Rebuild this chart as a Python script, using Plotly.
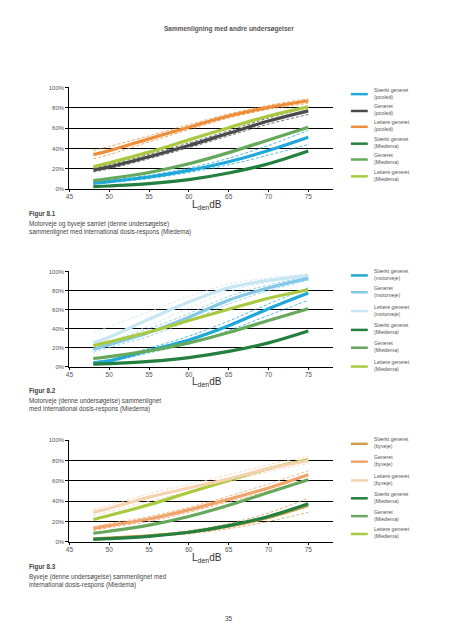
import plotly.graph_objects as go

W, H = 453, 640

# ---------------- data ----------------
x_db = [48, 50, 55, 60, 65, 70, 75]
x_ticks = [45, 50, 55, 60, 65, 70, 75]
y_ticks = [0, 0.2, 0.4, 0.6, 0.8, 1.0]

# Miedema (international dose-response), percent
miedema_strong = [2.5, 3.2, 5.5, 9.5, 16, 25, 37.5]
miedema_gen = [8.5, 10.5, 16.5, 25, 36, 48.5, 61]
miedema_light = [22, 26, 36.5, 48.5, 60.5, 72, 81]

# Figure 8.1 pooled
pooled_strong = [6, 7.5, 12, 18.5, 27, 38, 51]
pooled_strong_hi = [7, 8.7, 13.8, 20.8, 30.5, 43, 58]
pooled_strong_lo = [5, 6.4, 10.5, 16.4, 24, 33.5, 44]
pooled_gen = [19, 22, 32, 43, 55, 67, 77]
pooled_gen_hi = [21, 24, 34.3, 45.5, 57.5, 70, 80.5]
pooled_gen_lo = [17, 20, 30, 40.8, 52.5, 64, 73.5]
pooled_light = [34, 38, 49.5, 61, 72, 80.5, 87]
pooled_light_hi = [38, 42, 52.5, 63.5, 74, 82.5, 89]
pooled_light_lo = [30, 34, 46.5, 58.5, 70, 78.5, 84.5]

# Figure 8.2 motorveje
motor_strong = [4, 6, 17, 28, 43, 61, 77.5]
motor_strong_hi = [5, 7.5, 19.5, 32, 48, 66, 83]
motor_strong_lo = [3, 5, 14.5, 24, 38, 54, 70]
motor_gen = [18, 23, 36, 52, 70, 83, 93]
motor_gen_hi = [21, 26, 40, 56, 74, 86, 95]
motor_gen_lo = [15, 20, 32, 48, 66, 80, 91]
motor_light = [25, 31, 50, 68, 83, 91, 96]
motor_light_hi = [36, 42, 58, 74, 87, 93.5, 97.5]
motor_light_lo = [20, 26, 43, 62, 79, 89, 94.5]

# Figure 8.3 byveje
by_strong = [3, 3.8, 6, 9.5, 15.5, 24, 36]
by_strong_hi = [3.5, 4.5, 7, 11, 18, 28.5, 43]
by_strong_lo = [2.5, 3, 5, 8, 13, 20, 29]
by_gen = [13, 16, 22.5, 31.5, 42, 53, 66]
by_gen_hi = [15, 18, 25, 34, 45, 57, 70]
by_gen_lo = [11, 14, 20, 29, 39.5, 50, 62]
by_light = [29, 33, 44, 53, 62, 72, 80]
by_light_hi = [32, 36, 47.5, 56.5, 66, 76, 84]
by_light_lo = [26, 29.5, 40, 49.5, 59, 69, 77]

# legend texts
leg1 = ["Stærkt generet<br>(pooled)", "Generet<br>(pooled)", "Lettere generet<br>(pooled)",
        "Stærkt generet<br>(Miedema)", "Generet<br>(Miedema)", "Lettere generet<br>(Miedema)"]
leg2 = ["Stærkt generet<br>(motorveje)", "Generet<br>(motorveje)", "Lettere generet<br>(motorveje)",
        "Stærkt generet<br>(Miedema)", "Generet<br>(Miedema)", "Lettere generet<br>(Miedema)"]
leg3 = ["Stærkt generet<br>(byveje)", "Generet<br>(byveje)", "Lettere generet<br>(byveje)",
        "Stærkt generet<br>(Miedema)", "Generet<br>(Miedema)", "Lettere generet<br>(Miedema)"]

captions = [
    ("Figur 8.1", "Motorveje og byveje samlet (denne undersøgelse)<br>sammenlignet med international dosis-respons (Miedema)"),
    ("Figur 8.2", "Motorveje (denne undersøgelse) sammenlignet<br>med international dosis-respons (Miedema)"),
    ("Figur 8.3", "Byveje (denne undersøgelse) sammenlignet med<br>international dosis-respons (Miedema)"),
]

# ---------------- style ----------------
C_M_STRONG = "#23803f"
C_M_GEN = "#66a85c"
C_M_LIGHT = "#a9c940"
C_P_STRONG = "#1fa8d9"
C_P_GEN = "#4a4a4c"
C_P_LIGHT = "#ee8e3a"
C_MV_STRONG = "#1fa8d9"
C_MV_GEN = "#84c8e8"
C_MV_LIGHT = "#c6e6f3"
C_BV_STRONG = "#d39a4a"
C_BV_GEN = "#f0a46c"
C_BV_LIGHT = "#f6d2b0"

FONT = "Liberation Sans, Arial, sans-serif"

def px(x):
    return x / W

def py(y):
    return 1 - y / H

# chart pixel geometry: (y of 100%, y of 0%)
charts = [(85, 188), (271, 367), (441, 544)]
X_LEFT, X_RIGHT = 66, 332
x_max = 45 + (X_RIGHT - X_LEFT) / (241 / 30)

fig = go.Figure()

def pct(v):
    return [a / 100 for a in v]

def add_ci(i, lo, hi, color):
    for arr in (lo, hi):
        fig.add_trace(go.Scatter(x=x_db, y=pct(arr), mode="lines", line=dict(color=color, width=0.8, dash="3px,2px", shape="spline"),
                                 xaxis=f"x{i}" if i > 1 else "x", yaxis=f"y{i}" if i > 1 else "y", showlegend=False, hoverinfo="skip"))

def add_main(i, vals, color, width=3.2):
    fig.add_trace(go.Scatter(x=x_db, y=pct(vals), mode="lines", line=dict(color=color, width=width, shape="spline"),
                             xaxis=f"x{i}" if i > 1 else "x", yaxis=f"y{i}" if i > 1 else "y", showlegend=False))

sets = [
    (1, [(pooled_strong, pooled_strong_lo, pooled_strong_hi, C_P_STRONG),
         (pooled_gen, pooled_gen_lo, pooled_gen_hi, C_P_GEN),
         (pooled_light, pooled_light_lo, pooled_light_hi, C_P_LIGHT)]),
    (2, [(motor_strong, motor_strong_lo, motor_strong_hi, C_MV_STRONG),
         (motor_gen, motor_gen_lo, motor_gen_hi, C_MV_GEN),
         (motor_light, motor_light_lo, motor_light_hi, C_MV_LIGHT)]),
    (3, [(by_strong, by_strong_lo, by_strong_hi, C_BV_STRONG),
         (by_gen, by_gen_lo, by_gen_hi, C_BV_GEN),
         (by_light, by_light_lo, by_light_hi, C_BV_LIGHT)]),
]

legend_colors = {
    1: [C_P_STRONG, C_P_GEN, C_P_LIGHT, C_M_STRONG, C_M_GEN, C_M_LIGHT],
    2: [C_MV_STRONG, C_MV_GEN, C_MV_LIGHT, C_M_STRONG, C_M_GEN, C_M_LIGHT],
    3: [C_BV_STRONG, C_BV_GEN, C_BV_LIGHT, C_M_STRONG, C_M_GEN, C_M_LIGHT],
}
legend_texts = {1: leg1, 2: leg2, 3: leg3}
legend_y = {1: [92, 109, 125, 142, 158, 175],
            2: [275, 292, 311, 330, 348, 367],
            3: [445, 463, 482, 500, 518, 536]}

for i, series in sets:
    for main, lo, hi, col in series:
        add_ci(i, lo, hi, col)
    if i == 3:
        add_main(i, miedema_light, C_M_LIGHT)
        add_main(i, miedema_gen, C_M_GEN)
        for main, lo, hi, col in series[::-1]:
            add_main(i, main, col)
        add_main(i, miedema_strong, C_M_STRONG)
    else:
        for main, lo, hi, col in series[::-1]:
            add_main(i, main, col)
        add_main(i, miedema_light, C_M_LIGHT)
        add_main(i, miedema_gen, C_M_GEN)
        add_main(i, miedema_strong, C_M_STRONG)

layout = dict(
    width=W, height=H, margin=dict(l=0, r=0, t=0, b=0),
    paper_bgcolor="white", plot_bgcolor="white", showlegend=False,
    font=dict(family=FONT, color="#555"),
)

annotations = []
shapes = []

for i, (ytop, ybot) in enumerate(charts, start=1):
    xa = "xaxis" if i == 1 else f"xaxis{i}"
    ya = "yaxis" if i == 1 else f"yaxis{i}"
    layout[xa] = dict(domain=[px(X_LEFT), px(X_RIGHT)], range=[45, x_max], tickvals=x_ticks,
                      ticks="outside", ticklen=2, tickwidth=1, tickcolor="black", ticklabelstandoff=-1,
                      showline=True, linecolor="black", linewidth=1.3, showgrid=False, zeroline=False,
                      tickfont=dict(size=6.5, color="#555"), anchor="y" if i == 1 else f"y{i}", fixedrange=True)
    layout[ya] = dict(domain=[py(ybot), py(ytop)], range=[0, 1.003], tickvals=y_ticks, tickformat=".0%",
                      ticks="outside", ticklen=3, tickwidth=1, tickcolor="black",
                      showline=True, linecolor="black", linewidth=1.3, showgrid=True, gridcolor="black", gridwidth=1.3,
                      zeroline=False, tickfont=dict(size=6, color="#555"),
                      anchor="x" if i == 1 else f"x{i}", fixedrange=True)
    # axis title
    annotations.append(dict(x=px(205), y=py(ybot + 16), xref="paper", yref="paper", text="L<sub>den</sub>dB",
                            showarrow=False, font=dict(size=10, color="#333"), xanchor="center", yanchor="middle"))
    # caption
    cy = ybot + 25
    t, body = captions[i - 1]
    annotations.append(dict(x=px(23), y=py(cy), xref="paper", yref="paper", text=f"<b>{t}</b>", showarrow=False,
                            font=dict(size=6.3, color="#444"), xanchor="left", yanchor="middle"))
    annotations.append(dict(x=px(23), y=py(cy + 4), xref="paper", yref="paper", text=body, showarrow=False,
                            font=dict(size=6.3, color="#444"), xanchor="left", yanchor="top", align="left"))
    # legend
    for yy, col, txt in zip(legend_y[i], legend_colors[i], legend_texts[i]):
        shapes.append(dict(type="line", xref="paper", yref="paper", x0=px(350), x1=px(367), y0=py(yy), y1=py(yy),
                           line=dict(color=col, width=2.5)))
        annotations.append(dict(x=px(371), y=py(yy - 1), xref="paper", yref="paper", text=txt, showarrow=False,
                                font=dict(size=5.2, color="#555"), xanchor="left", yanchor="middle", align="left"))

annotations.append(dict(x=0.5, y=py(26), xref="paper", yref="paper", text="<b>Sammenligning med andre undersøgelser</b>",
                        showarrow=False, font=dict(size=6.5, color="#555"), xanchor="center", yanchor="middle"))
annotations.append(dict(x=px(227), y=py(621), xref="paper", yref="paper", text="35",
                        showarrow=False, font=dict(size=6.5, color="#444"), xanchor="center", yanchor="middle"))

layout["annotations"] = annotations
layout["shapes"] = shapes
fig.update_layout(**layout)
fig.write_html("out.html", config={"displayModeBar": False},
               post_script="document.body.style.margin='0';document.body.style.overflow='hidden';")
